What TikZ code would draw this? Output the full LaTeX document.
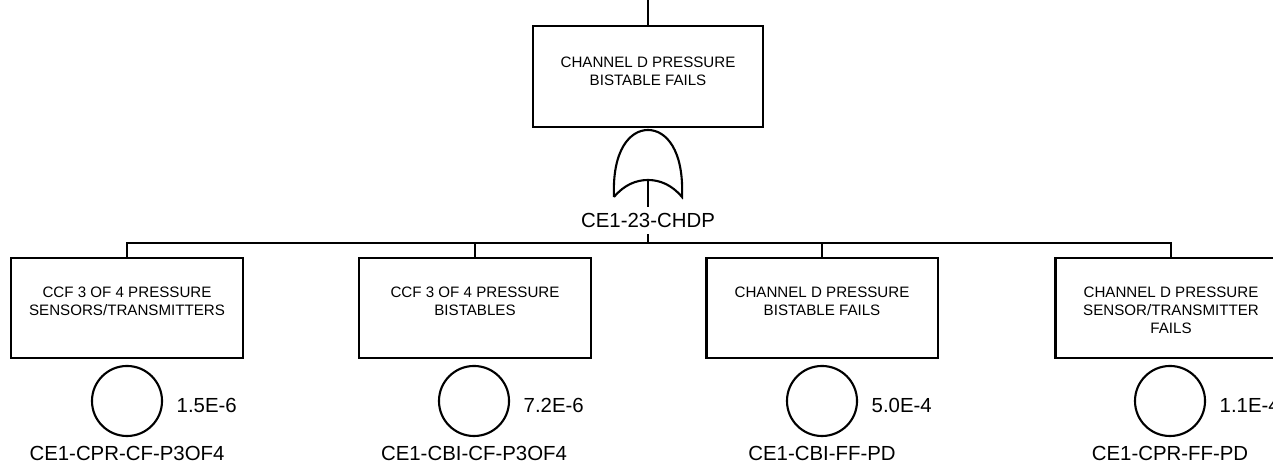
\documentclass[tikz,border=0pt]{standalone}
\usepackage{fontspec}
\setmainfont{Liberation Sans}
\usepackage{xcolor}
\usepackage{tikz}
\usetikzlibrary{calc}
\definecolor{ink}{HTML}{000000}
\tikzset{
  wire/.style={draw=ink, line width=0.6pt},
  eventbox/.style={draw=ink, line width=0.6pt, minimum width=2.31cm, minimum height=1.00cm, inner sep=0pt},
  boxtext/.style={text=ink, font=\fontsize{4.3}{5.1}\selectfont, align=center, anchor=north, inner sep=0pt},
  basic/.style={circle, draw=ink, line width=0.6pt, minimum size=0.70cm, inner sep=0pt},
  idlab/.style={text=ink, font=\fontsize{5.8}{7}\selectfont, inner sep=1.6pt},
  prob/.style={text=ink, font=\fontsize{5.8}{7}\selectfont, anchor=west, inner sep=0pt}
}

\begin{document}
\begin{tikzpicture}[x=0.01cm, y=-0.01cm]
  \useasboundingbox (0,0) rectangle (1273,465);

  % top event
  \coordinate (feed) at (648,0);
  \node[eventbox, minimum width=2.30cm, minimum height=1.01cm] (top) at (648,76.5) {};
  \node[boxtext] (toptxt) at ($(top.north)+(0,31)$) {CHANNEL D PRESSURE\\BISTABLE FAILS};
  \draw[wire] (feed) -- (top.north);

  % OR gate under the top event
  \coordinate (gatein) at (648,180);
  \draw[wire] (614,197) .. controls (612,150) and (630,130) .. (648,130)
              .. controls (666,130) and (684,150) .. (682,197)
              .. controls (672,185) and (660,180) .. (gatein)
              .. controls (636,180) and (624,185) .. (614,197);
  \node[idlab] (gatelbl) at (648,220.5) {CE1-23-CHDP};
  \draw[wire] (gatein) -- (gatelbl.north);

  % inputs of the gate
  \foreach \i/\x/\txt in {1/127/{CCF 3 OF 4 PRESSURE\\SENSORS/TRANSMITTERS},
                          2/475/{CCF 3 OF 4 PRESSURE\\BISTABLES},
                          3/822/{CHANNEL D PRESSURE\\BISTABLE FAILS},
                          4/1171/{CHANNEL D PRESSURE\\SENSOR/TRANSMITTER\\FAILS}} {
    \node[eventbox] (leaf\i) at (\x,308) {};
    \node[boxtext] (leaftxt\i) at ($(leaf\i.north)+(0,29)$) {\txt};
  }

  \coordinate (bus) at (648,244);
  \draw[wire] (gatelbl.south) -- (bus);
  \draw[wire] (leaf1.north) -- ++(0,-14) -| (leaf4.north);
  \draw[wire] (leaf2.north) -- ++(0,-14);
  \draw[wire] (leaf3.north) -- ++(0,-14);

  % basic events
  \foreach \i/\x/\p/\id in {1/127/1.5E-6/CE1-CPR-CF-P3OF4,
                            2/474/7.2E-6/CE1-CBI-CF-P3OF4,
                            3/822/5.0E-4/CE1-CBI-FF-PD,
                            4/1170/1.1E-4/CE1-CPR-FF-PD} {
    \node[basic] (ev\i) at (\x,401) {};
    \node[prob] (p\i) at ($(ev\i)+(49,4)$) {\p};
    \node[idlab] (id\i) at ($(ev\i)+(0,52)$) {\id};
  }
\end{tikzpicture}
\end{document}
